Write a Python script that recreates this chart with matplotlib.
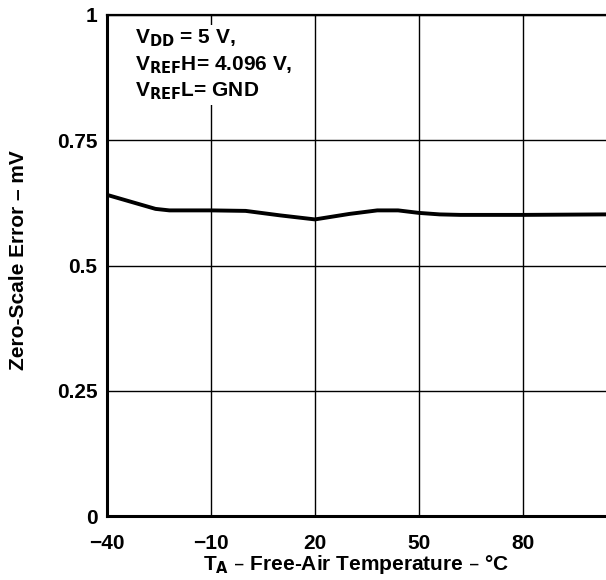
import matplotlib
matplotlib.use('Agg')
import matplotlib.pyplot as plt

# temperature (degC) vs zero-scale error (mV)
temp = [-40, -32, -26, -22, -10, 0, 10, 20, 30, 38, 44, 50, 56, 62, 80, 104]
zse = [0.641, 0.625, 0.613, 0.610, 0.610, 0.609, 0.600, 0.592, 0.603, 0.610, 0.610, 0.605, 0.602, 0.601, 0.601, 0.602]

xticks = [-40, -10, 20, 50, 80]
xlabels = ['\u221240', '\u221210', '20', '50', '80']
yticks = [0, 0.25, 0.5, 0.75, 1]
ylabels = ['0', '0.25', '0.5', '0.75', '1']

plt.rcParams['font.family'] = ['Liberation Sans', 'DejaVu Sans']
plt.rcParams['font.weight'] = 'bold'
fs = 15

fig = plt.figure(figsize=(6.06, 5.8), dpi=100)
ax = fig.add_axes([107 / 606, 1 - 516 / 580, 1 - 107 / 606, 501 / 580])

ax.plot(temp, zse, color='black', lw=2.8, solid_joinstyle='round', zorder=3)

ax.set_xlim(-40, 104)
ax.set_ylim(0, 1)
ax.set_xticks(xticks)
ax.set_xticklabels(xlabels, fontsize=fs, fontweight='bold')
ax.set_yticks(yticks)
ax.set_yticklabels(ylabels, fontsize=fs, fontweight='bold')
ax.tick_params(axis='x', length=0, pad=13)
ax.tick_params(axis='y', length=0, pad=7)
ax.grid(True, color='black', lw=1)

for s in ['left', 'bottom']:
    ax.spines[s].set_linewidth(2.2)
ax.spines['top'].set_linewidth(1.6)
ax.spines['right'].set_visible(False)

ax.set_xlabel('T$_\\mathbf{A}$ \u2013 Free-Air Temperature \u2013 \u00b0C', fontsize=fs, fontweight='bold', labelpad=0)
ax.set_ylabel('Zero-Scale Error \u2013 mV', fontsize=fs, fontweight='bold')
ax.yaxis.set_label_coords(-0.158, 0.51)

ax.text(0.056, 0.975,
        'V$_\\mathbf{DD}$ = 5 V,\nV$_\\mathbf{REF}$H= 4.096 V,\nV$_\\mathbf{REF}$L= GND',
        transform=ax.transAxes, fontsize=fs, fontweight='bold', va='top', ha='left',
        linespacing=1.3,
        bbox=dict(facecolor='white', edgecolor='none', pad=2))

fig.savefig('out.png', dpi=100)
